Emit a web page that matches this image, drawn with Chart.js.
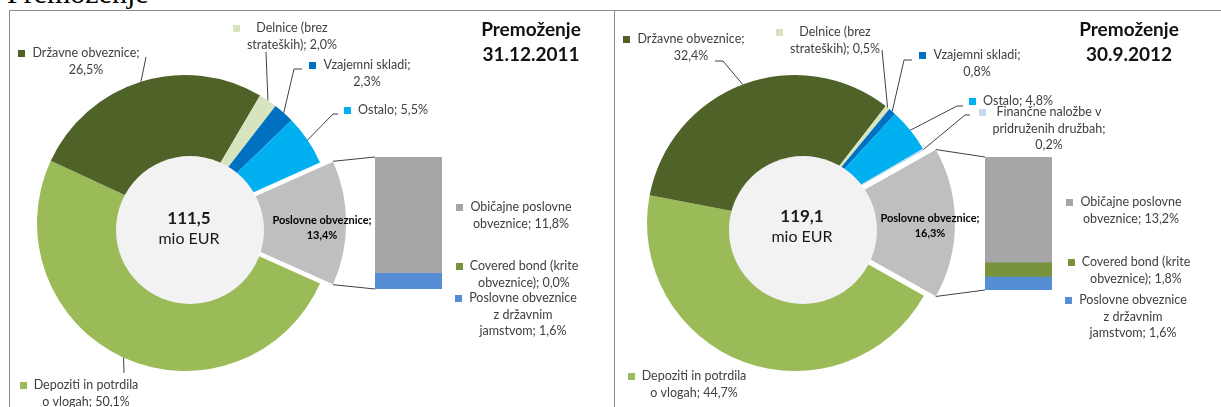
<!DOCTYPE html>
<html><head><meta charset="utf-8">
<script src="https://cdn.jsdelivr.net/npm/chart.js@4.4.1/dist/chart.umd.min.js"></script>
<style>
html,body{margin:0;padding:0;background:#fff;width:1221px;height:407px;overflow:hidden;position:relative}
canvas{position:absolute;left:0;top:0}
.panel{position:absolute;border:1px solid #8c8c8c;box-sizing:border-box}
#cut{position:absolute;left:7px;top:-24px;font-family:'Liberation Serif',serif;font-size:30px;color:#000;white-space:nowrap;line-height:normal}
</style></head><body>
<div id="cut">Premoženje</div>
<div class="panel" style="left:9px;top:10px;width:606px;height:420px"></div>
<div class="panel" style="left:614px;top:10px;width:620px;height:420px"></div>
<canvas id="pieL" width="1221" height="407"></canvas>
<canvas id="pieR" width="1221" height="407"></canvas>
<canvas id="barL" width="1221" height="407"></canvas>
<canvas id="barR" width="1221" height="407"></canvas>
<script>
// ---------- DATA ----------
const pieCategoriesL = ['Depoziti in potrdila o vlogah', 'Državne obveznice', 'Delnice (brez strateških)', 'Vzajemni skladi', 'Ostalo', 'Poslovne obveznice'];
const pieValuesL = [50.1, 26.5, 2.0, 2.3, 5.5, 13.4];
const pieCategoriesR = ['Depoziti in potrdila o vlogah', 'Državne obveznice', 'Delnice (brez strateških)', 'Vzajemni skladi', 'Ostalo', 'Finančne naložbe v pridruženih družbah', 'Poslovne obveznice'];
const pieValuesR = [44.7, 32.4, 0.5, 0.8, 4.8, 0.2, 16.3];
const barCategories = ['Poslovne obveznice z državnim jamstvom', 'Covered bond (krite obveznice)', 'Običajne poslovne obveznice'];
const barValuesL = [1.6, 0.0, 11.8];
const barValuesR = [1.6, 1.8, 13.2];
const totalL = '111,5';
const totalR = '119,1';
const unitText = 'mio EUR';
const titleText = 'Premoženje';
const dateL = '31.12.2011';
const dateR = '30.9.2012';

// ---------- STYLES ----------
const pieColorsL = ['#9bbb59', '#4f6228', '#d7e4bd', '#0070c0', '#00b0f0', '#bfbfbf'];
const pieColorsR = ['#9bbb59', '#4f6228', '#d7e4bd', '#0070c0', '#00b0f0', '#c6d9f1', '#bfbfbf'];
const barColors = ['#558ed5', '#77933c', '#a6a6a6'];
const FONT = 'Lato, "Open Sans", sans-serif';
const TXT = '#404040';
const LH = 16.5;

Chart.defaults.font.family = FONT;

function fmt(v) { return v.toFixed(1).replace('.', ',') + '%'; }
function wrap(name, v, counts) {
  const words = (name + '; ' + fmt(v)).split(' ');
  const lines = []; let k = 0;
  counts.forEach(c => { lines.push(words.slice(k, k + c).join(' ')); k += c; });
  return lines;
}
function textBlock(ctx, lines, cx, y, font, color, marker, lh) {
  ctx.font = font;
  ctx.textAlign = 'center'; ctx.textBaseline = 'middle';
  const maxW = Math.max(...lines.map(l => ctx.measureText(l).width));
  ctx.fillStyle = color;
  lines.forEach((l, i) => ctx.fillText(l, cx, y + i * (lh || LH)));
  if (marker) {
    ctx.fillStyle = marker;
    ctx.fillRect(Math.round(cx - maxW / 2 - 14), Math.round(y - 3.5), 7, 7);
  }
}

// ---------- LAYOUTS ----------
const layoutL = {
  center: {x: 185, y: 223}, radius: 148,
  hole: {dx: 5, dy: 7, r: 74},
  totalPos: {x: 189, y: 219},
  titlePos: {x: 531, y: 30},
  labels: [
    {cx: 86, y: 385, split: [3, 3], leader: [[124, 373]]},
    {cx: 86, y: 53, split: [2, 1], leader: [[146, 57]]},
    {cx: 292, y: 28, split: [2, 2], leader: [[266, 52]]},
    {cx: 367, y: 65, split: [2, 1], leader: [[302, 69], [294, 69]]},
    {cx: 393, y: 110, split: [2], leader: [[338, 114], [333, 114]]},
    {cx: 322, y: 220, split: [2, 1], inside: true}
  ],
  bar: {left: 375, right: 442, top: 157, bottom: 289},
  barLabels: [
    {cx: 523, y: 298, split: [2, 2, 2]},
    {cx: 524, y: 266, split: [3, 2]},
    {cx: 521, y: 207, split: [2, 2]}
  ]
};
const layoutR = {
  center: {x: 795, y: 223}, radius: 148,
  hole: {dx: 8, dy: 7, r: 74},
  totalPos: {x: 802, y: 217},
  titlePos: {x: 1129, y: 30},
  labels: [
    {cx: 694, y: 376, split: [3, 3]},
    {cx: 691, y: 39, split: [2, 1], leader: [[715, 61], [723, 61]]},
    {cx: 835, y: 32, split: [2, 2], leader: [[882, 50]]},
    {cx: 977, y: 55, split: [2, 1], leader: [[912, 60], [904, 60]]},
    {cx: 1018, y: 101, split: [2], leader: [[963, 106], [957, 106]]},
    {cx: 1049, y: 112, split: [3, 2, 1], leader: [[970, 115], [965, 115]]},
    {cx: 930, y: 218, split: [2, 1], inside: true}
  ],
  bar: {left: 985, right: 1052, top: 157, bottom: 290},
  barLabels: [
    {cx: 1133, y: 300, split: [2, 2, 2]},
    {cx: 1136, y: 262, split: [3, 2]},
    {cx: 1131, y: 202, split: [2, 2]}
  ]
};

function makePie(id, cats, vals, colors, lay, total, date) {
  const sum = vals.reduce((a, b) => a + b, 0);
  const expl = vals.length - 1;
  const rotation = 90 + vals[expl] / sum * 180;
  const W = 1221, H = 407, half = 160;
  const plugin = {
    id: 'pieDecor' + id,
    afterDatasetsDraw(chart) {
      const ctx = chart.ctx;
      const meta = chart.getDatasetMeta(0);
      const a0 = meta.data[0];
      ctx.save();
      // inner circle
      ctx.beginPath();
      ctx.arc(a0.x + lay.hole.dx, a0.y + lay.hole.dy, lay.hole.r, 0, Math.PI * 2);
      ctx.fillStyle = '#f2f2f2'; ctx.fill();
      // center text
      ctx.textAlign = 'center'; ctx.textBaseline = 'middle'; ctx.fillStyle = '#1a1a1a';
      ctx.font = 'bold 17px ' + FONT; ctx.fillText(total, lay.totalPos.x, lay.totalPos.y);
      ctx.font = '16px ' + FONT; ctx.fillText(unitText, lay.totalPos.x, lay.totalPos.y + 20);
      // title
      ctx.fillStyle = '#111';
      ctx.font = 'bold 19px ' + FONT;
      ctx.fillText(titleText, lay.titlePos.x, lay.titlePos.y);
      ctx.fillText(date, lay.titlePos.x, lay.titlePos.y + 25);
      // labels + leaders
      meta.data.forEach((arc, i) => {
        const L = lay.labels[i]; if (!L) return;
        const lines = wrap(cats[i], vals[i], L.split);
        if (L.inside) {
          textBlock(ctx, lines, L.cx, L.y, 'bold 11px ' + FONT, '#000', null, 15);
          return;
        }
        if (L.leader) {
          const mid = (arc.startAngle + arc.endAngle) / 2;
          const ax = arc.x + Math.cos(mid) * arc.outerRadius;
          const ay = arc.y + Math.sin(mid) * arc.outerRadius;
          ctx.beginPath();
          ctx.moveTo(L.leader[0][0], L.leader[0][1]);
          L.leader.slice(1).forEach(p => ctx.lineTo(p[0], p[1]));
          ctx.lineTo(ax, ay);
          ctx.strokeStyle = '#404040'; ctx.lineWidth = 1; ctx.stroke();
        }
        textBlock(ctx, lines, L.cx, L.y, '12.5px ' + FONT, TXT, colors[i]);
      });
      ctx.restore();
    }
  };
  return new Chart(document.getElementById(id), {
    type: 'pie',
    data: {labels: cats, datasets: [{
      data: vals, backgroundColor: colors, borderWidth: 0,
      offset: vals.map((v, i) => i === expl ? 42 : 0)
    }]},
    options: {
      responsive: false, animation: false, events: [],
      rotation: rotation, radius: lay.radius,
      layout: {padding: {left: lay.center.x - half, right: W - lay.center.x - half, top: lay.center.y - half, bottom: H - lay.center.y - half}},
      plugins: {legend: {display: false}, tooltip: {enabled: false}}
    },
    plugins: [plugin]
  });
}

function makeBar(id, vals, pie, lay, pieVals) {
  const sum = vals.reduce((a, b) => a + b, 0);
  const W = 1221, H = 407;
  const expl = pieVals.length - 1;
  const plugin = {
    id: 'barDecor' + id,
    afterDatasetsDraw(chart) {
      const ctx = chart.ctx;
      const arc = pie.getDatasetMeta(0).data[expl];
      const off = (arc.options.offset || 0) / 4;
      const circ = arc.endAngle - arc.startAngle;
      const fix = 1 - Math.sin(Math.min(Math.PI, circ));
      const R = arc.outerRadius + off * fix;
      const hA = (arc.startAngle + arc.endAngle) / 2;
      const tx = arc.x + Math.cos(hA) * off, ty = arc.y + Math.sin(hA) * off;
      const area = chart.chartArea;
      ctx.save();
      ctx.strokeStyle = '#404040'; ctx.lineWidth = 1;
      ctx.beginPath();
      ctx.moveTo(tx + Math.cos(arc.startAngle) * R, ty + Math.sin(arc.startAngle) * R);
      ctx.lineTo(area.left, area.top);
      ctx.moveTo(tx + Math.cos(arc.endAngle) * R, ty + Math.sin(arc.endAngle) * R);
      ctx.lineTo(area.left, area.bottom);
      ctx.stroke();
      lay.barLabels.forEach((L, i) => {
        textBlock(ctx, wrap(barCategories[i], vals[i], L.split), L.cx, L.y, '12.5px ' + FONT, TXT, barColors[i]);
      });
      ctx.restore();
    }
  };
  return new Chart(document.getElementById(id), {
    type: 'bar',
    data: {labels: [''], datasets: barCategories.map((c, i) => ({
      label: c, data: [vals[i]], backgroundColor: barColors[i], borderWidth: 0,
      barPercentage: 1, categoryPercentage: 1
    }))},
    options: {
      responsive: false, animation: false, events: [],
      layout: {padding: {left: lay.bar.left, right: W - lay.bar.right, top: lay.bar.top, bottom: H - lay.bar.bottom}},
      scales: {
        x: {stacked: true, display: false},
        y: {stacked: true, display: false, min: 0, max: sum}
      },
      plugins: {legend: {display: false}, tooltip: {enabled: false}}
    },
    plugins: [plugin]
  });
}

const pieL = makePie('pieL', pieCategoriesL, pieValuesL, pieColorsL, layoutL, totalL, dateL);
const pieR = makePie('pieR', pieCategoriesR, pieValuesR, pieColorsR, layoutR, totalR, dateR);
makeBar('barL', barValuesL, pieL, layoutL, pieValuesL);
makeBar('barR', barValuesR, pieR, layoutR, pieValuesR);
</script>
</body></html>
